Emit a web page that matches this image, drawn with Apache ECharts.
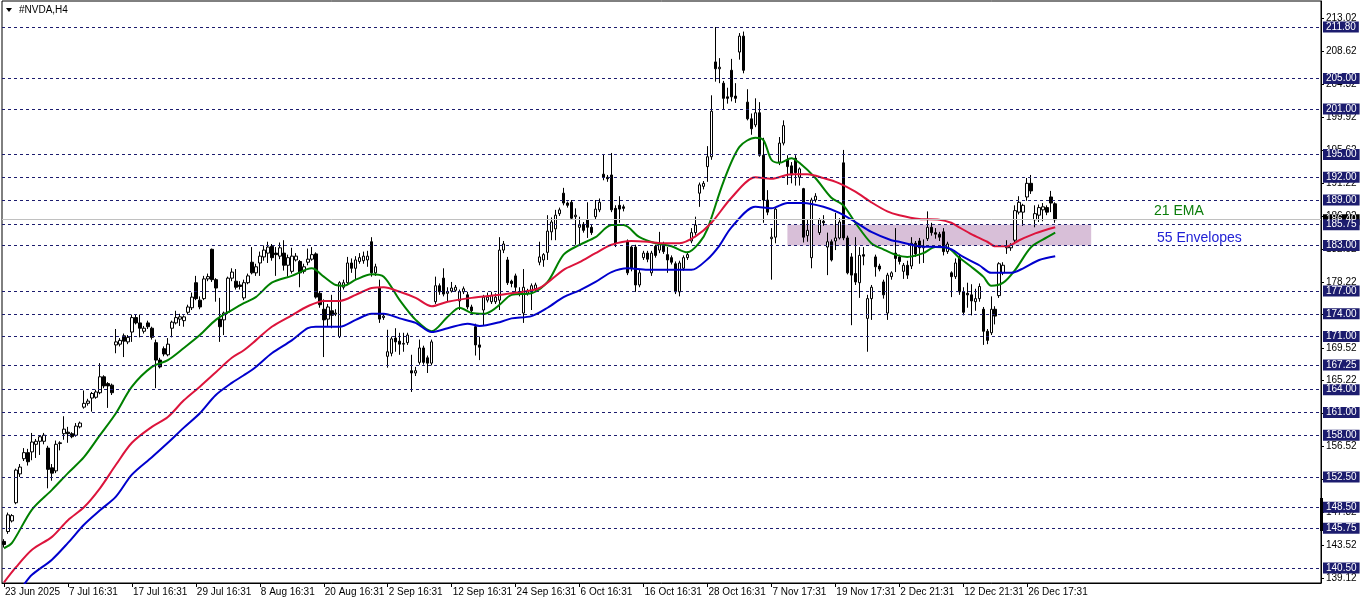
<!DOCTYPE html>
<html><head><meta charset="utf-8">
<script src="https://cdn.jsdelivr.net/npm/echarts@6/dist/echarts.min.js"></script>
<style>html,body{margin:0;padding:0;background:#fff}#c{width:1362px;height:603px}</style>
</head><body><div id="c"></div>
<script>
// ---- data ----
const tickLabels = ['23 Jun 2025','7 Jul 16:31','17 Jul 16:31','29 Jul 16:31','8 Aug 16:31','20 Aug 16:31','2 Sep 16:31','12 Sep 16:31','24 Sep 16:31','6 Oct 16:31','16 Oct 16:31','28 Oct 16:31','7 Nov 17:31','19 Nov 17:31','2 Dec 21:31','12 Dec 21:31','26 Dec 17:31'];
const yTicks = [213.02,208.62,204.32,199.92,195.62,191.22,186.92,182.52,178.22,173.92,169.52,165.22,160.92,156.52,152.22,147.82,143.52,139.12];
const levels = [211.80,205.00,201.00,195.00,192.00,189.00,185.75,183.00,177.00,174.00,171.00,167.25,164.00,161.00,158.00,152.50,148.50,145.75,140.50];
const lastPrice = 186.4;
const zone = {from:196, to:272, low:183.00, high:185.75};
// [open, high, low, close]
const ohlc = [
[144.0,144.3,143.2,143.6],[145.3,147.8,145.0,147.5],[146.7,147.6,146.5,147.4],[149.1,153.6,148.9,153.4],[152.9,154.2,152.5,153.8],
[154.9,156.3,154.6,155.7],[155.7,156.2,154.0,154.5],[155.8,158.3,154.7,157.1],[156.8,157.5,155.0,157.2],[157.2,158.0,155.4,157.8],
[157.2,158.3,156.8,158.0],[156.3,156.6,151.0,153.5],[153.7,154.2,152.0,153.0],[153.3,157.3,153.0,156.8],[156.9,157.2,156.0,157.0],
[158.2,160.5,157.4,158.8],[158.4,159.1,157.0,158.2],[158.2,158.4,157.6,157.8],[158.0,159.6,157.8,159.2],[159.1,159.8,158.9,159.6],
[161.7,163.9,161.5,162.2],[162.2,162.8,161.9,162.5],[162.9,163.7,161.1,163.5],[163.0,164.0,162.8,163.7],[163.6,167.5,163.4,165.7],
[165.7,165.9,164.2,164.5],[164.8,165.0,161.6,164.5],[164.6,164.8,163.3,163.6],[169.9,172.0,168.8,170.3],[170.0,170.8,169.7,170.5],
[171.1,171.4,168.3,170.4],[170.3,171.2,170.0,170.9],[171.6,173.9,170.3,173.5],[173.5,173.9,172.6,172.8],[172.8,173.9,170.9,172.1],
[171.7,172.4,171.4,172.1],[172.8,173.1,172.0,172.3],[172.1,172.3,170.6,170.9],[170.2,170.6,164.2,167.9],[167.9,168.2,166.8,167.0],
[169.4,169.7,168.4,168.7],[168.6,170.8,168.4,170.0],[172.1,173.1,170.9,172.9],[172.8,174.4,172.6,173.5],[173.3,174.0,172.4,173.6],
[173.1,173.8,172.3,173.6],[174.2,175.2,173.9,174.9],[174.8,176.8,174.5,176.2],[178.1,179.0,175.8,176.0],[175.8,176.3,174.6,174.9],
[176.0,179.0,175.8,178.6],[178.6,179.3,178.3,178.9],[182.5,182.6,178.2,178.5],[178.5,178.7,175.6,177.4],[173.3,176.1,170.3,172.3],
[173.2,174.3,171.2,174.1],[174.2,178.9,174.0,178.7],[178.7,180.0,178.3,179.5],[178.3,179.9,177.2,177.5],[177.8,178.3,177.2,177.6],
[176.1,178.5,175.8,178.1],[178.1,179.3,177.9,179.0],[180.8,182.8,179.2,179.4],[179.4,180.6,179.0,180.2],[180.7,182.2,179.0,181.6],
[181.5,183.0,181.0,182.4],[182.0,183.5,180.7,182.8],[182.9,183.2,181.0,181.4],[182.0,182.8,179.0,181.8],[181.6,183.4,181.2,182.7],
[182.0,183.7,179.7,180.4],[180.4,181.8,178.9,181.4],[179.6,182.7,179.3,181.6],[181.1,182.0,180.9,181.6],[180.9,181.1,177.5,179.4],
[179.6,180.6,179.3,180.2],[180.8,182.6,180.4,181.2],[181.2,182.8,181.0,181.8],[181.9,182.1,176.0,176.2],[176.7,177.0,174.8,175.2],
[174.6,175.9,168.3,173.2],[173.3,175.3,172.4,174.9],[174.4,176.5,172.1,173.8],[173.95,174.6,173.7,174.1],[171.0,178.3,170.8,178.1],
[177.5,178.5,177.2,178.1],[178.1,181.5,177.9,180.7],[180.7,181.3,179.4,180.0],[180.0,181.6,178.5,181.1],[180.9,182.0,180.6,181.4],
[181.0,182.2,180.6,181.6],[181.1,182.3,180.2,181.6],[183.5,184.1,178.9,179.4],[179.4,180.6,179.0,180.2],[177.4,178.5,172.8,173.3],
[173.5,174.0,173.2,173.7],[168.4,171.9,166.9,169.0],[168.8,171.0,168.4,170.7],[170.8,172.1,169.0,170.3],[170.4,171.5,168.6,170.0],
[170.0,171.5,169.0,170.1],[170.2,171.5,169.9,171.2],[166.5,168.6,163.7,166.2],[166.2,167.0,165.8,166.5],[167.6,170.6,167.3,169.5],
[169.5,169.8,167.3,167.6],[168.2,168.5,166.2,167.5],[167.5,170.6,167.2,170.3],[175.6,178.9,175.3,177.7],[177.7,178.0,176.5,176.9],
[178.7,180.0,176.3,176.6],[176.7,177.5,175.6,176.9],[177.0,178.2,176.8,177.4],[177.1,177.8,176.9,177.5],[175.7,177.2,174.5,176.9],
[176.9,177.6,176.6,177.3],[176.5,176.9,174.6,174.9],[174.9,175.2,174.0,174.4],[172.3,172.7,168.5,169.9],[169.9,171.0,167.9,169.6],
[174.5,176.5,172.5,176.2],[175.8,176.8,175.5,176.2],[175.6,176.9,175.3,176.4],[175.6,176.7,175.3,176.2],[175.8,184.1,174.5,182.4],
[182.4,183.6,182.0,183.2],[181.1,181.5,177.8,178.1],[178.3,178.5,177.5,178.0],[179.0,179.3,176.9,177.5],[176.6,177.5,176.3,176.9],
[174.1,179.9,172.8,177.5],[176.7,177.3,176.4,177.0],[176.9,178.0,174.5,177.7],[177.3,178.1,177.0,177.8],[180.8,183.5,180.4,181.5],
[181.1,182.0,180.2,181.8],[182.1,187.0,181.1,184.9],[184.8,186.7,183.7,186.1],[185.2,187.7,183.7,187.0],[187.2,188.0,186.9,187.7],
[189.9,190.6,188.3,188.6],[188.6,188.8,188.0,188.3],[188.7,189.0,186.4,186.6],[186.8,187.9,183.1,187.0],[185.4,186.8,183.1,185.7],
[185.8,186.1,184.7,185.0],[186.4,188.7,184.0,185.4],[185.4,185.7,184.4,184.7],[186.8,189.0,186.5,187.8],[187.7,189.2,187.4,188.7],
[192.4,195.0,191.6,192.0],[192.0,192.3,191.4,191.8],[192.3,195.2,187.4,187.7],[187.9,188.3,182.8,183.3],[188.3,189.5,186.0,187.8],
[188.1,188.4,187.5,187.9],[183.5,183.8,179.1,179.4],[182.8,183.0,179.6,180.0],[182.8,183.1,176.9,177.8],[177.8,179.8,177.5,179.4],
[181.4,182.3,181.1,182.0],[182.0,182.3,180.8,181.2],[179.4,182.3,179.0,182.0],[182.9,183.1,181.4,181.7],[182.4,184.8,182.0,183.3],
[183.2,183.5,181.9,182.2],[181.8,182.8,179.4,181.1],[181.4,181.7,180.5,180.8],[180.6,180.9,176.6,176.9],[176.9,181.0,176.3,180.7],
[180.0,181.7,179.7,181.4],[181.4,182.2,181.1,181.8],[183.6,185.3,183.3,184.7],[184.7,186.8,184.4,185.7],[189.9,191.3,188.1,191.0],
[190.8,191.5,190.4,191.2],[193.4,196.1,191.4,194.7],[194.7,202.8,194.3,200.7],[207.2,211.8,204.6,206.3],[206.3,207.7,204.4,206.5],
[204.4,204.7,201.0,202.4],[202.6,203.8,201.7,202.4],[206.1,207.6,202.0,202.6],[202.7,204.4,201.8,202.4],[208.5,211.0,207.5,210.6],
[210.6,211.2,205.7,206.1],[201.9,203.6,199.5,199.7],[199.7,200.4,197.6,198.4],[198.9,202.4,198.6,200.5],[200.5,201.9,194.7,194.9],
[194.9,197.2,186.0,189.0],[189.0,190.3,187.0,187.4],[183.9,185.3,178.5,184.1],[184.1,188.0,183.3,187.8],[194.0,197.3,193.6,196.5],
[196.5,199.5,196.2,198.8],[194.3,194.9,191.0,193.4],[193.5,194.0,191.2,192.3],[194.5,194.9,190.9,192.6],[192.0,193.3,190.9,193.1],
[190.5,190.6,183.4,184.1],[184.3,186.4,183.5,185.0],[181.4,189.3,180.0,189.0],[189.0,189.9,188.7,189.5],[184.7,186.6,184.4,186.4],
[186.2,187.0,185.6,186.0],[182.8,184.7,179.1,183.5],[183.5,183.8,180.9,181.1],[183.6,187.3,182.4,184.0],[184.0,186.6,183.8,186.1],
[193.9,195.6,183.7,184.0],[184.0,184.3,179.2,179.4],[181.5,182.0,172.5,179.1],[179.3,184.1,177.8,178.2],[178.1,182.8,176.1,181.7],
[181.8,182.8,180.4,181.6],[173.4,176.5,169.0,176.0],[176.0,177.8,173.2,177.5],[181.5,181.8,178.9,180.2],[180.3,180.6,179.6,179.9],
[178.2,178.5,176.0,176.5],[174.1,179.4,173.2,179.1],[178.9,179.6,178.5,179.4],[182.0,185.3,179.5,181.3],[181.5,181.8,180.5,180.9],
[179.6,180.7,178.6,180.4],[180.4,181.0,178.6,179.1],[180.3,184.1,179.9,183.3],[183.3,183.6,181.5,181.9],[183.6,184.0,180.6,182.7],
[182.7,183.8,180.7,182.9],[183.9,187.5,183.6,185.4],[185.4,186.0,184.3,184.7],[184.7,185.3,183.9,184.5],[184.5,184.8,183.6,184.1],
[184.8,185.3,181.7,182.2],[182.2,183.5,181.9,183.2],[179.4,179.6,176.2,178.9],[178.9,181.3,178.6,180.7],[181.5,181.8,176.5,176.9],
[176.9,177.5,173.8,174.2],[176.7,178.1,174.8,176.5],[176.5,177.9,173.8,175.7],[175.6,177.3,174.4,176.0],[176.0,178.0,175.6,177.6],
[174.6,174.9,169.9,171.7],[171.7,172.0,170.0,170.5],[171.5,176.3,171.2,174.6],[174.6,175.0,172.6,173.7],[176.4,180.8,176.1,180.6],
[179.4,180.8,179.1,180.4],[182.7,183.7,181.9,182.9],[182.7,183.3,182.3,183.0],[183.7,188.3,183.3,187.6],[187.4,189.5,187.1,188.7],
[187.4,188.5,185.6,188.3],[189.4,191.9,188.9,191.2],[191.2,192.3,189.8,190.2],[186.4,188.3,185.4,187.2],[187.0,188.4,186.1,188.0],
[187.7,188.6,186.2,188.1],[188.0,188.3,187.0,187.4],[189.4,190.2,187.4,188.6],[188.5,188.7,186.0,186.4]
];
// lines: [bar index, price]
const ema21 = [[0,143.1],[2,143.8],[7,148.2],[12,150.8],[16,153.0],[20,155.1],[24,158.0],[28,160.9],[32,164.4],[37,167.0],[41,167.9],[45,169.5],[49,171.2],[53,173.2],[57,174.5],[60,175.4],[63,176.2],[67,178.1],[72,179.0],[77,180.0],[80,178.9],[83,177.8],[85,177.7],[88,178.5],[92,179.2],[95,178.9],[99,175.8],[103,173.2],[107,171.7],[111,173.6],[114,174.8],[117,174.1],[120,174.0],[122,174.4],[124,175.2],[127,176.5],[132,176.7],[136,178.2],[140,181.8],[144,183.1],[148,184.1],[152,185.7],[155,185.7],[159,184.1],[163,183.3],[167,182.9],[171,182.1],[174,183.4],[176,185.2],[180,191.4],[184,196.0],[188,197.2],[190,196.9],[192,194.3],[194,193.9],[197,194.5],[199,193.9],[203,191.9],[207,189.3],[210,188.3],[213,186.0],[217,183.3],[220,182.5],[223,181.8],[226,181.5],[230,182.0],[233,182.8],[236,182.7],[239,181.4],[242,180.2],[245,178.9],[247,177.7],[250,178.1],[253,179.8],[257,182.8],[261,184.1],[263,184.7]];
const envMid = [[0,138.6],[3,140.6],[7,142.9],[12,144.6],[16,146.8],[20,148.5],[24,151.0],[28,154.1],[32,157.0],[37,159.1],[41,160.4],[45,162.6],[49,164.4],[53,166.3],[57,168.2],[60,169.2],[63,170.5],[67,172.3],[72,173.8],[76,175.0],[80,175.7],[84,175.7],[88,176.5],[92,177.4],[95,177.5],[99,176.9],[103,176.1],[107,175.0],[111,175.6],[117,176.1],[124,176.5],[127,176.7],[134,177.4],[140,179.8],[144,180.8],[148,182.0],[152,183.1],[157,183.6],[161,183.5],[165,183.3],[169,183.3],[173,184.2],[177,186.0],[182,189.3],[188,192.0],[192,191.8],[197,192.4],[201,192.4],[205,191.9],[209,191.2],[213,190.1],[217,188.7],[221,187.5],[224,187.0],[229,186.5],[234,186.4],[237,186.0],[239,185.4],[242,184.5],[246,183.5],[248,182.9],[251,182.9],[254,183.7],[258,184.6],[263,185.4]];
const envLow = [[5,138.3],[7,139.6],[12,141.6],[16,143.8],[20,146.2],[24,148.1],[28,149.9],[32,152.8],[37,155.1],[41,157.0],[45,159.0],[49,160.9],[53,163.3],[57,164.9],[60,165.9],[63,167.0],[67,168.8],[72,170.5],[76,172.1],[78,172.3],[84,172.3],[88,173.2],[92,174.0],[95,174.0],[99,173.4],[103,172.8],[107,171.6],[111,172.1],[116,172.7],[119,172.4],[124,172.9],[127,173.4],[132,173.7],[136,174.8],[140,176.2],[144,177.1],[148,178.2],[152,179.5],[156,180.0],[161,179.8],[167,179.8],[172,179.8],[176,181.2],[179,183.0],[182,185.4],[188,188.1],[192,187.9],[196,188.6],[200,188.6],[205,188.1],[209,187.3],[213,186.1],[217,184.8],[222,183.7],[224,183.5],[229,182.9],[236,182.7],[240,181.5],[244,180.4],[247,179.4],[252,179.4],[255,180.0],[259,181.1],[263,181.6]];

// ---- build ----
const TOTAL = 330, STEP = 16;
const categories = Array.from({length: TOTAL}, (_, i) => (i % STEP === 0 && i / STEP < tickLabels.length) ? tickLabels[i / STEP] : '');
const showTick = (i) => categories[i] !== '';
const FONT = 'Liberation Sans, Arial, sans-serif';
const navy = '#1c1c6e';

const markLineData = [{
  yAxis: lastPrice,
  lineStyle: {color: '#c0c0c0', type: 'solid', width: 1},
  label: {formatter: lastPrice.toFixed(2), backgroundColor: '#000', color: '#fff'}
}].concat(levels.map(v => ({
  yAxis: v,
  lineStyle: {color: navy, type: [3, 3], width: 1},
  label: {formatter: v.toFixed(2)}
})));

const chart = echarts.init(document.getElementById('c'), null, {renderer: 'canvas'});
chart.setOption({
  animation: false,
  backgroundColor: '#fff',
  grid: {left: 2, right: 41, top: 1, bottom: 20, show: true, borderColor: '#000', borderWidth: 1, backgroundColor: 'transparent'},
  xAxis: {
    type: 'category', data: categories, boundaryGap: true,
    axisLine: {lineStyle: {color: '#000', width: 1}},
    axisTick: {show: true, alignWithLabel: true, interval: showTick, length: 4, lineStyle: {color: '#000'}},
    axisLabel: {interval: showTick, align: 'left', margin: 4, color: '#000', fontSize: 10, fontFamily: FONT, padding: [0, 0, 0, 1]},
    splitLine: {show: false}
  },
  yAxis: {
    type: 'value', position: 'right', min: 138.52, max: 215.23,
    axisLine: {show: true, lineStyle: {color: '#000'}},
    axisTick: {show: true, customValues: yTicks, length: 3, lineStyle: {color: '#000'}},
    axisLabel: {customValues: yTicks, formatter: v => v.toFixed(2), color: '#000', fontSize: 10, fontFamily: FONT, margin: 5},
    splitLine: {show: false}
  },
  graphic: [
    {type: 'polygon', shape: {points: [[6, 8], [12, 8], [9, 12]]}, style: {fill: '#000'}},
    {type: 'text', left: 19, top: 5, style: {text: '#NVDA,H4', fill: '#000', font: '10px ' + FONT}},
    {type: 'text', left: 1154, top: 204, style: {text: '21 EMA', fill: '#0a7d0a', font: '14px ' + FONT}},
    {type: 'text', left: 1157, top: 231, style: {text: '55 Envelopes', fill: '#2222d6', font: '14px ' + FONT}},
    {type: 'rect', shape: {x: 1320, y: 498, width: 3, height: 33}, style: {fill: '#000'}}
  ],
  series: [
    {
      type: 'candlestick', name: 'NVDA',
      data: ohlc.map(r => [r[0], r[3], r[2], r[1]]),
      barWidth: 3, z: 3,
      itemStyle: {color: '#fff', color0: '#000', borderColor: '#000', borderColor0: '#000', borderWidth: 1},
      markArea: {
        silent: true,
        itemStyle: {color: '#d8bfd8'},
        data: [[{xAxis: zone.from, yAxis: zone.low}, {xAxis: zone.to, yAxis: zone.high}]]
      },
      markLine: {
        silent: true, symbol: ['none', 'none'], animation: false,
        label: {show: true, position: 'end', distance: 2, color: '#fff', backgroundColor: navy, padding: [1, 3, 0, 3], fontSize: 10, fontFamily: FONT, lineHeight: 10},
        data: markLineData
      }
    },
    {type: 'line', name: '21 EMA', data: ema21, showSymbol: false, smooth: 0.3, z: 4, lineStyle: {color: '#008000', width: 2}},
    {type: 'line', name: 'Env mid', data: envMid, showSymbol: false, smooth: 0.3, z: 4, lineStyle: {color: '#dc143c', width: 2}},
    {type: 'line', name: 'Env low', data: envLow, showSymbol: false, smooth: 0.3, z: 4, lineStyle: {color: '#0000cd', width: 2}}
  ]
});
</script></body></html>
